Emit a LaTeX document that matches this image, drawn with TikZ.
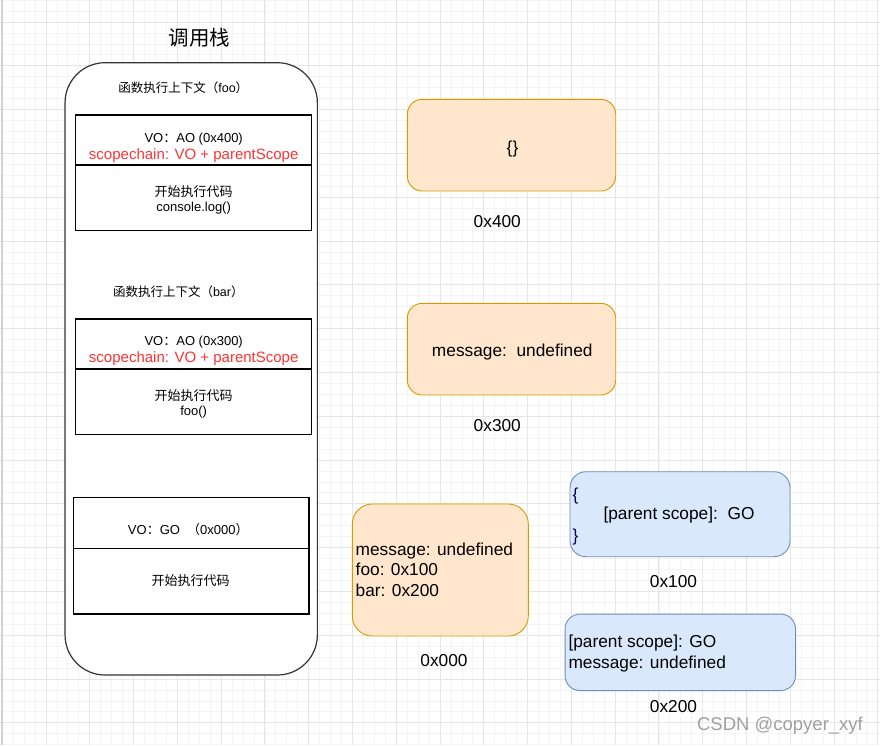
\documentclass[tikz,border=0pt]{standalone}
\usepackage{fontspec}
\setmainfont{Liberation Sans}
\newfontfamily\cjk{Noto Sans CJK SC}
\definecolor{gridmaj}{HTML}{E6E6E6}
\definecolor{gridmin}{HTML}{F4F4F4}
\definecolor{orfill}{HTML}{FFE6CC}
\definecolor{ordraw}{HTML}{D79B00}
\definecolor{blfill}{HTML}{DAE8FC}
\definecolor{bldraw}{HTML}{6C8EBF}
\definecolor{redtxt}{HTML}{FF3333}
\definecolor{stackline}{HTML}{333333}
\definecolor{wm}{HTML}{A0A0A0}
\tikzset{
  tt/.style={inner sep=0pt, text depth=0pt},
  f12/.style={tt, font=\fontsize{12.5}{15}\selectfont, text height=9pt},
  f13/.style={tt, font=\fontsize{13}{15}\selectfont, text height=9.4pt},
  f15/.style={tt, font=\fontsize{15}{18}\selectfont, text height=10.8pt},
  f17/.style={tt, font=\fontsize{17.3}{20}\selectfont, text height=12.4pt},
  f20/.style={tt, font=\cjk\fontsize{20.5}{24}\selectfont, text height=14.8pt},
  stackbox/.style={draw=black, line width=1.2pt, fill=white, inner sep=0pt},
  orbox/.style={draw=ordraw, line width=0.9pt, fill=orfill, inner sep=0pt},
  blbox/.style={draw=bldraw, line width=0.9pt, fill=blfill, inner sep=0pt},
}
\begin{document}
\begin{tikzpicture}[x=1pt,y=-1pt]
\useasboundingbox (0,0) rectangle (880,745);
\fill[white] (0,0) rectangle (880,745);
% grid
\foreach \i in {-4,...,76} \draw[gridmin, line width=0.8pt] ({46+10.945*\i},0) -- ({46+10.945*\i},745);
\foreach \j in {-2,...,66} \draw[gridmin, line width=0.8pt] (0,{22+10.95*\j}) -- (880,{22+10.95*\j});
\foreach \i in {-1,...,19} \draw[gridmaj, line width=0.9pt] ({46+43.78*\i},0) -- ({46+43.78*\i},745);
\foreach \j in {0,...,16} \draw[gridmaj, line width=0.9pt] (0,{22+43.8*\j}) -- (880,{22+43.8*\j});
\draw[gray!35, line width=1.5pt] (2.2,0) -- (2.2,745);

% call stack
\node[f20] (title) at (199.3,38.5) {调用栈};
\node[draw=stackline, line width=1.2pt, fill=white, rounded corners=40pt,
      minimum width=252.3pt, minimum height=612.3pt, inner sep=0pt] (stack) at (191.2,368.85) {};

\node[f12] (h1) at (183.3,87.7) {{\cjk 函数执行上下文（}foo{\cjk ）}};
\node[stackbox, minimum width=236pt, minimum height=50pt] (b1top) at (193.7,140) {};
\node[stackbox, minimum width=236pt, minimum height=65.7pt] (b1bot) at (193.7,197.85) {};
\node[f13] (b1vo) at (193.7,137.3) {VO{\cjk ：}AO (0x400)};
\node[f15, text=redtxt] (b1sc) at (193.7,154.3) {scopechain: VO + parentScope};
\node[f13] (b1go) at (193.7,191.5) {\cjk 开始执行代码};
\node[f13] (b1code) at (193.7,206.7) {console.log()};

\node[f12] (h2) at (178.3,292.3) {{\cjk 函数执行上下文（}bar{\cjk ）}};
\node[stackbox, minimum width=236pt, minimum height=50pt] (b2top) at (193.7,344) {};
\node[stackbox, minimum width=236pt, minimum height=65.3pt] (b2bot) at (193.7,401.65) {};
\node[f13] (b2vo) at (193.7,340.7) {VO{\cjk ：}AO (0x300)};
\node[f15, text=redtxt] (b2sc) at (193.7,357.3) {scopechain: VO + parentScope};
\node[f13] (b2go) at (193.7,396) {\cjk 开始执行代码};
\node[f13] (b2code) at (193.7,410.7) {foo()};

\node[stackbox, minimum width=235.7pt, minimum height=50.6pt] (b3top) at (191.15,523) {};
\node[stackbox, minimum width=235.7pt, minimum height=65.7pt] (b3bot) at (191.15,581.15) {};
\node[f13] (b3vo) at (188.3,529.3) {VO{\cjk ：}GO\ \ {\cjk （}0x000{\cjk ）}};
\node[f13] (b3go) at (190.7,580.7) {\cjk 开始执行代码};

% heap objects
\node[orbox, rounded corners=15pt, minimum width=208.4pt, minimum height=91.7pt] (o400) at (511.5,145.15) {};
\node[f17] (o400t) at (512.5,147) {\{\}};
\node[f17] (l400) at (497.3,221.7) {0x400};

\node[orbox, rounded corners=15pt, minimum width=208.4pt, minimum height=91.7pt] (o300) at (511.5,349.15) {};
\node[f17] (o300t) at (512.3,350) {message:\ \ undefined};
\node[f17] (l300) at (497.3,425) {0x300};

\node[orbox, rounded corners=20pt, minimum width=176pt, minimum height=132pt] (o000) at (440.3,570) {};
\node[f17, anchor=west] (o000a) at (355.5,549) {message: undefined};
\node[f17, anchor=west] (o000b) at (355.5,569.5) {foo: 0x100};
\node[f17, anchor=west] (o000c) at (355.5,590) {bar: 0x200};
\node[f17] (l000) at (444,660) {0x000};

\node[blbox, rounded corners=16pt, minimum width=220pt, minimum height=85pt] (o100) at (680,514.2) {};
\node[f17, anchor=west, text=blue!40!black] (o100a) at (572.5,494) {\{};
\node[f17] (o100b) at (679,513.3) {[parent scope]:\ \ GO};
\node[f17, anchor=west, text=blue!40!black] (o100c) at (572.5,535) {\}};
\node[f17] (l100) at (673.5,581.7) {0x100};

\node[blbox, rounded corners=15pt, minimum width=230.5pt, minimum height=76.5pt] (o200) at (680.3,652.3) {};
\node[f17, anchor=west] (o200a) at (568.3,641.7) {[parent scope]: GO};
\node[f17, anchor=west] (o200b) at (568.3,662.7) {message: undefined};
\node[f17] (l200) at (673.5,706) {0x200};

\node[tt, font=\fontsize{18.5}{22}\selectfont, text height=13.3pt, text=wm] (wmark) at (780,723.5) {CSDN @copyer\_xyf};
\end{tikzpicture}
\end{document}
